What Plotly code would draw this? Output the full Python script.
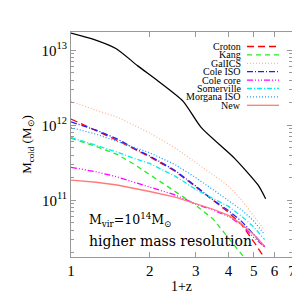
import plotly.graph_objects as go

# 1+z grid for model curves
zp1 = [1.0, 1.25, 1.5, 1.75, 2.0, 2.5, 3.0, 3.5, 4.0, 4.5, 5.0, 5.5]

# black solid (no legend entry)
zp1_black = [1.0, 1.22, 1.49, 1.80, 2.15, 2.68, 3.15, 4.23, 5.19, 5.55]
m_black = [1.70e13, 1.40e13, 1.05e13, 6.2e12, 3.9e12, 2.1e12, 9.3e11, 3.6e11, 1.6e11, 1.05e11]

m_croton = [1.21e12, 8.5e11, 6.3e11, 4.8e11, 3.8e11, 2.45e11, 1.52e11, 1.0e11, 6.9e10, 4.7e10, 2.8e10, 1.7e10]
m_kang = [6.7e11, 5.2e11, 4.1e11, 3.0e11, 2.2e11, 1.33e11, 8.6e10, 5.6e10, 3.2e10, 1.9e10, 1.2e10, None]
m_galics = [2.1e12, 1.58e12, 1.29e12, 1.0e12, 7.9e11, 5.0e11, 3.2e11, 2.2e11, 1.56e11, 1.0e11, 6.3e10, 4.0e10]
m_cole_iso = [1.11e12, 8.6e11, 6.6e11, 4.9e11, 3.9e11, 2.5e11, 1.55e11, 1.0e11, 7.3e10, 5.2e10, 3.5e10, 2.4e10]
m_cole_core = [2.75e11, 2.4e11, 2.05e11, 1.75e11, 1.5e11, 1.18e11, 8.9e10, 7.4e10, 6.1e10, 4.7e10, 3.2e10, 2.4e10]
m_somerville = [6.9e11, 5.4e11, 4.4e11, 3.6e11, 3.1e11, 2.1e11, 1.4e11, 1.05e11, 8.3e10, 6.1e10, 4.4e10, 3.0e10]
m_morgana = [9.3e11, 7.6e11, 6.1e11, 5.0e11, 4.3e11, 3.0e11, 2.0e11, 1.38e11, 1.0e11, 7.4e10, 5.3e10, 3.5e10]
m_new = [1.86e11, 1.74e11, 1.6e11, 1.45e11, 1.31e11, 1.1e11, 9.1e10, 7.6e10, 6.3e10, 4.8e10, 3.5e10, 2.45e10]

names = ["Croton", "Kang", "GalICS", "Cole ISO", "Cole core", "Somerville", "Morgana ISO", "New"]
series = [m_croton, m_kang, m_galics, m_cole_iso, m_cole_core, m_somerville, m_morgana, m_new]
colors = ["#ff0000", "#22ee22", "#ffb898", "#2020ff", "#ff00ff", "#00eeee", "#1e9fff", "#ff7b7b"]
dashes = ["7px,4px", "5px,4px", "1px,2px", "6px,2px,1px,2px", "6px,2px,1px,2px,1px,2px,1px,2px",
          "5px,2px,1px,2px", "1px,2px", "solid"]

x_ticks = [1, 2, 3, 4, 5, 6, 7]
y_ticks = [1e11, 1e12, 1e13]
y_ticktext = ["10<sup>11</sup>", "10<sup>12</sup>", "10<sup>13</sup>"]

FONT = "Liberation Serif, Times New Roman, serif"
WFONT = "DejaVu Serif, serif"

fig = go.Figure()
fig.add_trace(go.Scatter(x=zp1_black, y=m_black, mode="lines", line_shape="spline",
                         line=dict(color="black", width=1.3, smoothing=0.6), showlegend=False))
for n, s, c, d in zip(names, series, colors, dashes):
    fig.add_trace(go.Scatter(x=zp1, y=s, mode="lines", name=n,
                             line=dict(color=c, width=1.3, dash=d), showlegend=False))

# manual legend (text on the left, sample on the right)
shapes = []
annotations = []
for i, (n, c, d) in enumerate(zip(names, colors, dashes)):
    yy = 38.5 + i * 8.4
    yp = 1 - (yy - 24) / 225
    annotations.append(dict(xref="paper", yref="paper", x=(235 - 63) / 221, y=yp,
                            text=n, showarrow=False, xanchor="right", yanchor="middle",
                            font=dict(family=FONT, size=10, color="black")))
    shapes.append(dict(type="line", xref="paper", yref="paper",
                       x0=(239 - 63) / 221, x1=(271 - 63) / 221, y0=yp, y1=yp,
                       line=dict(color=c, width=1.3, dash=d)))

annotations.append(dict(xref="paper", yref="paper", x=(79 - 63) / 221, y=1 - (212 - 24) / 225,
                        text="M<sub>vir</sub>=10<sup>14</sup>M<sub>⊙</sub>", showarrow=False,
                        xanchor="left", yanchor="middle",
                        font=dict(family=WFONT, size=12.5, color="black")))
annotations.append(dict(xref="paper", yref="paper", x=(79 - 63) / 221, y=1 - (233 - 24) / 225,
                        text="higher mass resolution", showarrow=False,
                        xanchor="left", yanchor="middle",
                        font=dict(family=WFONT, size=14, color="black")))

minor_y = [k * 10 ** e for e in (10, 11, 12, 13) for k in range(2, 10)]

fig.update_layout(
    width=300, height=300,
    margin=dict(l=63, r=16, t=24, b=51),
    paper_bgcolor="white", plot_bgcolor="white",
    font=dict(family=FONT, size=13, color="black"),
    shapes=shapes, annotations=annotations,
    xaxis=dict(type="log", range=[0, 0.8451], tickvals=x_ticks, ticktext=[str(v) for v in x_ticks],
               showgrid=False, zeroline=False, showline=True, linecolor="#999999", linewidth=1,
               mirror="allticks", ticks="inside", ticklen=5, tickcolor="#999999",
               title=dict(text="1+z", standoff=0, font=dict(size=14)),
               tickfont=dict(size=15)),
    yaxis=dict(type="log", range=[10.244, 13.244], tickvals=y_ticks, ticktext=y_ticktext,
               showgrid=False, zeroline=False, showline=True, linecolor="#999999", linewidth=1,
               mirror="allticks", ticks="inside", ticklen=5, tickcolor="#999999",
               minor=dict(tickvals=minor_y, ticks="inside", ticklen=3, tickcolor="#999999", showgrid=False),
               title=dict(text="M<sub>cold</sub> (M<sub>⊙</sub>)", standoff=6, font=dict(size=13)),
               tickfont=dict(size=15)),
)

fig.write_html("out.html")
